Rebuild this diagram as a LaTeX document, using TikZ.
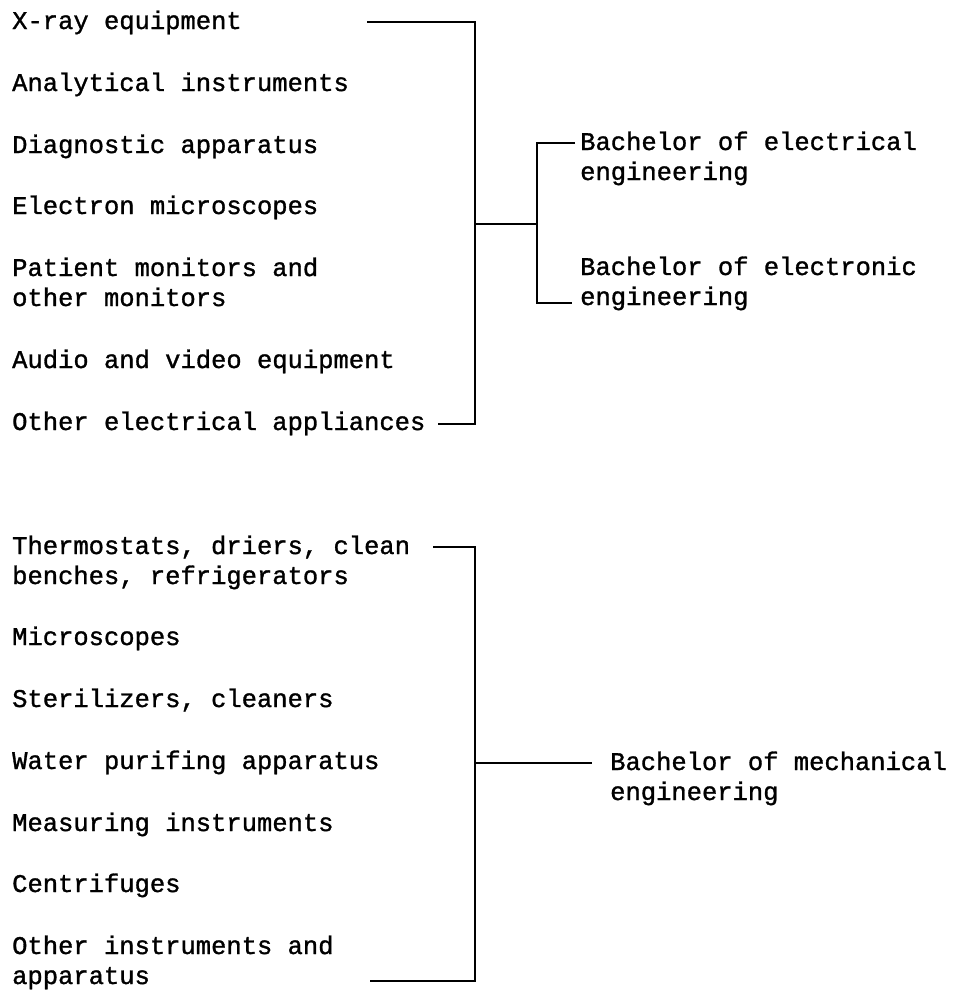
\documentclass[tikz,border=0pt]{standalone}
\usepackage{fontspec}
\newfontfamily\typewriter{Liberation Mono}[FakeBold=1.2]
\begin{document}
\begin{tikzpicture}[x=1pt,y=-1pt,
  item/.style={anchor=base west, inner sep=0pt, align=left,
    font=\typewriter\fontsize{25.5}{30}\selectfont},
  brk/.style={line width=2.4pt, line join=miter}]
\useasboundingbox (0,0) rectangle (958,991);

% electrical / electronic products (two-line nodes sit on their last baseline)
\node[item] (xray)  at (12,29)  {X-ray equipment};
\node[item] (anal)  at (12,91)  {Analytical instruments};
\node[item] (diag)  at (12,153) {Diagnostic apparatus};
\node[item] (elec)  at (12,214) {Electron microscopes};
\node[item] (pat)   at (12,306) {Patient monitors and\\other monitors};
\node[item] (audio) at (12,368) {Audio and video equipment};
\node[item] (oel)   at (12,430) {Other electrical appliances};

\node[item] (bel)   at (580,180) {Bachelor of electrical\\engineering};
\node[item] (bet)   at (580,305) {Bachelor of electronic\\engineering};

% mechanical products
\node[item] (thermo) at (12,584) {Thermostats, driers, clean\\benches, refrigerators};
\node[item] (micro)  at (12,645) {Microscopes};
\node[item] (steri)  at (12,707) {Sterilizers, cleaners};
\node[item] (water)  at (12,769) {Water purifing apparatus};
\node[item] (meas)   at (12,831) {Measuring instruments};
\node[item] (centr)  at (12,892) {Centrifuges};
\node[item] (oins)   at (12,984) {Other instruments and\\apparatus};

\node[item] (bme)    at (610,800) {Bachelor of mechanical\\engineering};

% bracket corners
\coordinate (t1) at (367,22);
\coordinate (t2) at (438,424);
\coordinate (tv1) at (475,22);
\coordinate (tv2) at (475,424);
\coordinate (tm) at (475,224);
\coordinate (sm) at (537,224);
\coordinate (s1) at (537,143);
\coordinate (s2) at (537,303);
\coordinate (e1) at (575,143);
\coordinate (e2) at (572,303);

\coordinate (b1) at (433,547);
\coordinate (b2) at (370,981);
\coordinate (bv1) at (475,547);
\coordinate (bv2) at (475,981);
\coordinate (bm) at (475,763);
\coordinate (be) at (592,763);

% brackets
\draw[brk] (t1) -- (tv1) -- (tv2) -- (t2);
\draw[brk] (tm) -- (sm);
\draw[brk] (e1) -- (s1) -- (s2) -- (e2);
\draw[brk] (b1) -- (bv1) -- (bv2) -- (b2);
\draw[brk] (bm) -- (be);
\end{tikzpicture}
\end{document}
